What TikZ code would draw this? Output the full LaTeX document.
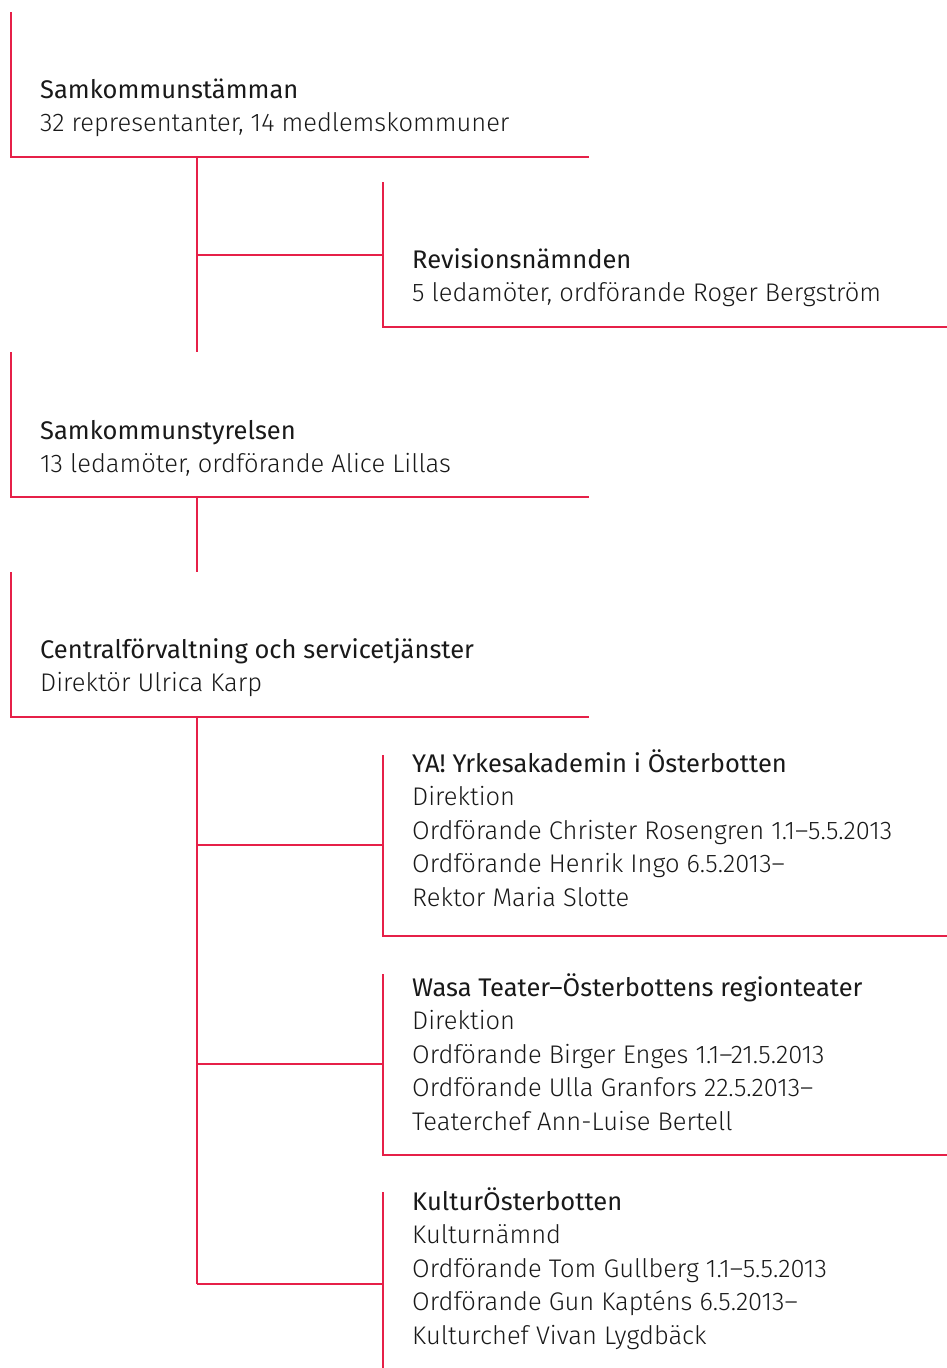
\documentclass[tikz,border=0pt]{standalone}
\usepackage{fontspec}
\setmainfont{Fira Sans Light}
\newfontfamily\titlef{Fira Sans}
\definecolor{orgred}{RGB}{230,32,72}
\definecolor{ink}{RGB}{25,25,25}
\begin{document}
\begin{tikzpicture}[x=1pt,y=-1pt,
  rule/.style={draw=orgred, line width=2pt},
  ttl/.style={anchor=base west, inner sep=0pt, text=ink, font=\titlef\fontsize{25.5}{30}\selectfont},
  sub/.style={anchor=base west, inner sep=0pt, text=ink, font=\fontsize{25.5}{30}\selectfont}]
\useasboundingbox (0,0) rectangle (947,1368);
% ---- coordinates of the frames
\coordinate (A-top) at (11,12);   \coordinate (A-bl) at (11,157);  \coordinate (A-br) at (589,157);
\coordinate (B-top) at (11,352);  \coordinate (B-bl) at (11,497);  \coordinate (B-br) at (589,497);
\coordinate (C-top) at (11,572);  \coordinate (C-bl) at (11,717);  \coordinate (C-br) at (589,717);
\coordinate (R-top) at (383,182); \coordinate (R-bl) at (383,327); \coordinate (R-br) at (947,327);
\coordinate (Y-top) at (383,755); \coordinate (Y-bl) at (383,936); \coordinate (Y-br) at (947,936);
\coordinate (W-top) at (383,974); \coordinate (W-bl) at (383,1155); \coordinate (W-br) at (947,1155);
\coordinate (K-top) at (383,1192); \coordinate (K-bot) at (383,1368);
\coordinate (t1a) at (197,157); \coordinate (t1b) at (197,352); \coordinate (t1m) at (197,255); \coordinate (R-in) at (383,255);
\coordinate (t2a) at (197,497); \coordinate (t2b) at (197,572);
\coordinate (t3a) at (197,717); \coordinate (t3y) at (197,845); \coordinate (t3w) at (197,1064); \coordinate (t3k) at (197,1284);
\coordinate (Y-in) at (383,845); \coordinate (W-in) at (383,1064); \coordinate (K-in) at (383,1284);
% ---- frames
\draw[rule] (A-top) -- (A-bl) -- (A-br);
\draw[rule] (B-top) -- (B-bl) -- (B-br);
\draw[rule] (C-top) -- (C-bl) -- (C-br);
\draw[rule] (R-top) -- (R-bl) -- (R-br);
\draw[rule] (Y-top) -- (Y-bl) -- (Y-br);
\draw[rule] (W-top) -- (W-bl) -- (W-br);
\draw[rule] (K-top) -- (K-bot);
% ---- connectors
\draw[rule] (t1a) -- (t1b);
\draw[rule] (t1m) -- (R-in);
\draw[rule] (t2a) -- (t2b);
\draw[rule] (t3a) -- (t3k);
\draw[rule] (t3y) -- (Y-in);
\draw[rule] (t3w) -- (W-in);
\draw[rule] (t3k) -- (K-in);
% ---- texts
\node[ttl] (a1) at (40,98) {Samkommunstämman};
\node[sub] (a2) at (40,131.5) {32 representanter, 14 medlemskommuner};
\node[ttl] (r1) at (412,268) {Revisionsnämnden};
\node[sub] (r2) at (412,301.5) {5 ledamöter, ordförande Roger Bergström};
\node[ttl] (b1) at (40,439) {Samkommunstyrelsen};
\node[sub] (b2) at (40,472.5) {13 ledamöter, ordförande Alice Lillas};
\node[ttl] (c1) at (40,658) {Centralförvaltning och servicetjänster};
\node[sub] (c2) at (40,691.5) {Direktör Ulrica Karp};
\node[ttl] (y1) at (412,772) {YA! Yrkesakademin i Österbotten};
\node[sub] (y2) at (412,805.5) {Direktion};
\node[sub] (y3) at (412,839) {Ordförande Christer Rosengren 1.1–5.5.2013};
\node[sub] (y4) at (412,872.5) {Ordförande Henrik Ingo 6.5.2013–};
\node[sub] (y5) at (412,906) {Rektor Maria Slotte};
\node[ttl] (w1) at (412,996) {Wasa Teater–Österbottens regionteater};
\node[sub] (w2) at (412,1029.5) {Direktion};
\node[sub] (w3) at (412,1063) {Ordförande Birger Enges 1.1–21.5.2013};
\node[sub] (w4) at (412,1096.5) {Ordförande Ulla Granfors 22.5.2013–};
\node[sub] (w5) at (412,1130) {Teaterchef Ann-Luise Bertell};
\node[ttl] (k1) at (412,1210) {KulturÖsterbotten};
\node[sub] (k2) at (412,1243.5) {Kulturnämnd};
\node[sub] (k3) at (412,1277) {Ordförande Tom Gullberg 1.1–5.5.2013};
\node[sub] (k4) at (412,1310.5) {Ordförande Gun Kapténs 6.5.2013–};
\node[sub] (k5) at (412,1344) {Kulturchef Vivan Lygdbäck};
\end{tikzpicture}
\end{document}
